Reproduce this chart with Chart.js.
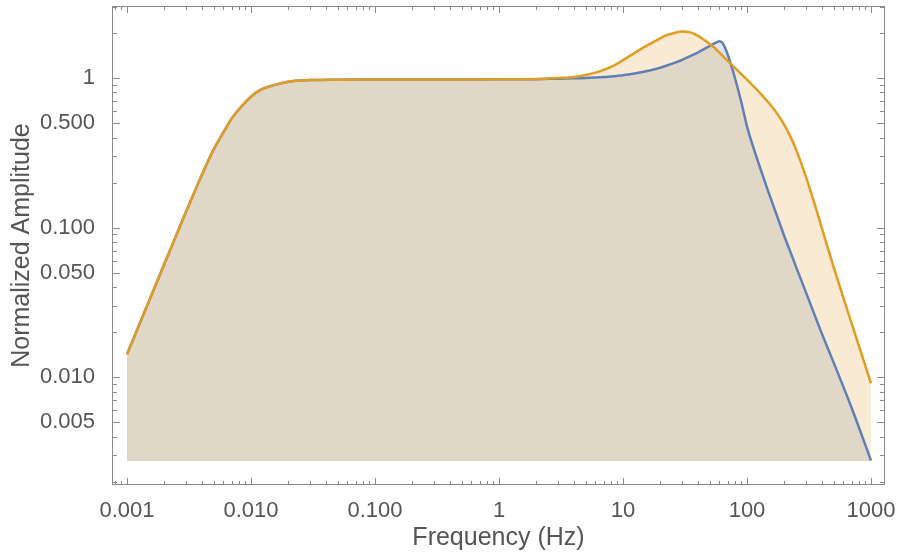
<!DOCTYPE html>
<html>
<head>
<meta charset="utf-8">
<script src="https://cdn.jsdelivr.net/npm/chart.js@4.4.1/dist/chart.umd.min.js"></script>
<style>
  html, body { margin: 0; padding: 0; background: #ffffff; }
  #wrap { width: 898px; height: 552px; position: relative; }
</style>
</head>
<body>
<div id="wrap"><canvas id="c" width="898" height="552"></canvas></div>
<script>
// ---- data ----
const frequency = [0.001, 0.0015, 0.002, 0.003, 0.004, 0.005, 0.006, 0.007, 0.008, 0.01,
  0.012, 0.015, 0.02, 0.03, 0.05, 0.1, 0.3, 1, 2, 3, 4, 5, 6, 7, 8.5, 10, 12, 14, 18, 22, 26, 30, 35, 40,
  45, 50, 55, 58, 60, 63, 66, 70, 75, 80, 90, 100, 120, 150, 175, 200, 225, 250, 300, 350, 400, 500, 700, 1000];

const ampBlue = [0.0142, 0.032, 0.057, 0.128, 0.223, 0.333, 0.434, 0.537, 0.618, 0.75,
  0.836, 0.893, 0.945, 0.968, 0.975, 0.977, 0.978, 0.98, 0.982, 0.99, 0.995, 1.0, 1.007, 1.014, 1.026, 1.045, 1.067, 1.091, 1.143, 1.202, 1.262, 1.324, 1.403, 1.479,
  1.56, 1.637, 1.71, 1.746, 1.76, 1.73, 1.62, 1.43, 1.2, 1.0, 0.69, 0.475, 0.292, 0.17, 0.119, 0.0875, 0.068, 0.054, 0.0366, 0.0262, 0.0197, 0.0125, 0.0062, 0.00277];

const ampOrange = [0.0142, 0.032, 0.057, 0.128, 0.223, 0.333, 0.434, 0.537, 0.618, 0.75,
  0.836, 0.893, 0.945, 0.968, 0.975, 0.977, 0.978, 0.98, 0.985, 1.0, 1.016, 1.047, 1.086, 1.132, 1.213, 1.318, 1.445, 1.567, 1.758, 1.92, 2.0, 2.05, 2.02, 1.92,
  1.8, 1.69, 1.59, 1.52, 1.48, 1.42, 1.365, 1.30, 1.23, 1.167, 1.06, 0.975, 0.835, 0.68, 0.578, 0.486, 0.4025, 0.3295, 0.2166, 0.145, 0.1004, 0.0544, 0.0227, 0.0091];

const fillBase = 0.00275;

const xTickValues = [0.001, 0.01, 0.1, 1, 10, 100, 1000];
const xTickLabels = ['0.001', '0.010', '0.100', '1', '10', '100', '1000'];
const yTickValues = [0.005, 0.01, 0.05, 0.1, 0.5, 1];
const yTickLabels = ['0.005', '0.010', '0.050', '0.100', '0.500', '1'];
const minorMultipliers = [2, 3, 4, 5, 6, 7, 8, 9];
const decades = [-4, -3, -2, -1, 0, 1, 2, 3];

const xRange = [0.000757, 1297];
const yRange = [0.0019, 3.03];

// ---- styling ----
const BLUE = '#5E81B5';
const ORANGE = '#E19C24';
const TEXT = '#555555';
const FRAME = '#8a8a8a';
const FONT = '"Liberation Sans", Arial, Helvetica, sans-serif';

function pts(ys) { return frequency.map((f, i) => ({ x: f, y: ys[i] })); }

function noPad(scale) {
  scale.paddingTop = 0; scale.paddingBottom = 0;
  scale.paddingLeft = 0; scale.paddingRight = 0;
}

const frameTicks = {
  id: 'frameTicks',
  afterDraw(chart) {
    const { ctx, chartArea: a, scales: { x, y } } = chart;
    ctx.save();
    ctx.strokeStyle = FRAME;
    ctx.lineWidth = 1;
    ctx.strokeRect(Math.round(a.left) + 0.5, Math.round(a.top) + 0.5,
      Math.round(a.right - a.left) - 1, Math.round(a.bottom - a.top) - 1);
    ctx.beginPath();
    const majorX = 7, minorX = 4, majorY = 8, minorY = 5;
    decades.forEach(d => {
      [1].concat(minorMultipliers).forEach(m => {
        const v = m * Math.pow(10, d);
        if (v >= xRange[0] && v <= xRange[1]) {
          const px = Math.round(x.getPixelForValue(v)) + 0.5;
          const len = m === 1 ? majorX : minorX;
          ctx.moveTo(px, a.bottom); ctx.lineTo(px, a.bottom - len);
          ctx.moveTo(px, a.top); ctx.lineTo(px, a.top + len);
        }
        if (v >= yRange[0] && v <= yRange[1]) {
          const py = Math.round(y.getPixelForValue(v)) + 0.5;
          const major = yTickValues.some(t => Math.abs(t - v) / v < 1e-6);
          const len = major ? majorY : minorY;
          ctx.moveTo(a.left, py); ctx.lineTo(a.left + len, py);
          ctx.moveTo(a.right, py); ctx.lineTo(a.right - len, py);
        }
      });
    });
    ctx.stroke();
    ctx.restore();
  }
};

new Chart(document.getElementById('c'), {
  type: 'line',
  data: {
    datasets: [
      {
        label: 'blue',
        data: pts(ampBlue),
        borderColor: BLUE,
        backgroundColor: 'rgba(94,129,181,0.2)',
        borderWidth: 2.5,
        pointRadius: 0,
        fill: { value: fillBase },
        cubicInterpolationMode: 'monotone',
        order: 2
      },
      {
        label: 'orange',
        data: pts(ampOrange),
        borderColor: ORANGE,
        backgroundColor: 'rgba(225,156,36,0.2)',
        borderWidth: 2.5,
        pointRadius: 0,
        fill: { value: fillBase },
        cubicInterpolationMode: 'monotone',
        order: 1
      }
    ]
  },
  options: {
    responsive: false,
    animation: false,
    layout: { padding: { top: 6, right: 13, left: 0, bottom: 0 } },
    plugins: {
      legend: { display: false },
      tooltip: { enabled: false },
      filler: { drawTime: 'beforeDatasetsDraw' }
    },
    scales: {
      x: {
        type: 'logarithmic',
        position: 'bottom',
        min: xRange[0], max: xRange[1],
        grid: { display: false },
        border: { display: false },
        afterBuildTicks(scale) { scale.ticks = xTickValues.map(v => ({ value: v })); },
        afterFit(scale) { scale.height = 67; noPad(scale); },
        ticks: {
          autoSkip: false, maxRotation: 0, padding: 5,
          color: TEXT, font: { family: FONT, size: 22 },
          callback(v) { const i = xTickValues.indexOf(v); return i >= 0 ? xTickLabels[i] : ''; }
        },
        title: {
          display: true, text: 'Frequency (Hz)', color: TEXT,
          font: { family: FONT, size: 25, lineHeight: 1 },
          padding: { top: 0, bottom: 1 }
        }
      },
      y: {
        type: 'logarithmic',
        position: 'left',
        min: yRange[0], max: yRange[1],
        grid: { display: false },
        border: { display: false },
        afterBuildTicks(scale) { scale.ticks = yTickValues.map(v => ({ value: v })); },
        afterFit(scale) { scale.width = 112; noPad(scale); },
        ticks: {
          autoSkip: false, padding: 9,
          color: TEXT, font: { family: FONT, size: 22 },
          callback(v) { const i = yTickValues.indexOf(v); return i >= 0 ? yTickLabels[i] : ''; }
        },
        title: {
          display: true, text: 'Normalized Amplitude', color: TEXT,
          font: { family: FONT, size: 25, lineHeight: 1 },
          padding: { top: 10, bottom: 0 }
        }
      }
    }
  },
  plugins: [frameTicks]
});
</script>
</body>
</html>
